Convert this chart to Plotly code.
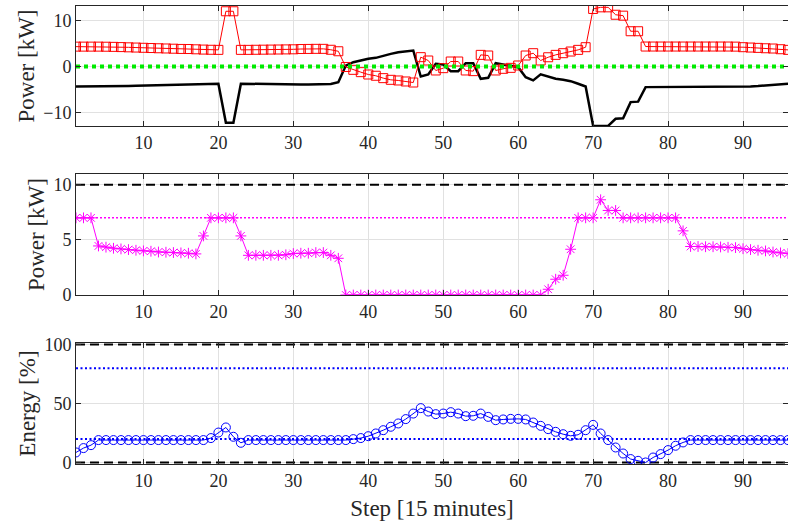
import plotly.graph_objects as go
from plotly.subplots import make_subplots

steps = list(range(1, 97))

grid_power = [4.3, 4.3, 4.3, 4.3, 4.28, 4.25, 4.2, 4.15, 4.1, 4.05, 4.0, 3.95, 3.9, 3.85, 3.8, 3.78, 3.72, 3.66, 3.62, 3.6,
              11.95, 11.95,
              3.6, 3.6, 3.62, 3.64, 3.66, 3.68, 3.7, 3.72, 3.78, 3.8, 3.82, 3.82, 3.62, 3.3,
              -0.1, -0.72, -1.22, -1.73, -2.0, -2.52, -2.88, -3.02, -3.24, -3.46,
              2.02, 1.3, -0.86, -0.36, 1.08, 1.08, -0.86, -1.0, 2.52, 2.38, -0.86, -0.5, -0.29, 0.22, 2.38, 2.88, 1.3, 2.0,
              2.52, 2.88, 3.24, 3.6, 4.18,
              12.45, 12.8, 12.8, 11.2, 11.0, 7.63, 7.63, 4.32,
              4.32, 4.32, 4.32, 4.32, 4.32, 4.32, 4.32, 4.32, 4.32, 4.32, 4.32,
              4.3, 4.18, 4.1, 4.03, 3.95, 3.89, 3.74, 3.6]

load_power = [-4.32, -4.32, -4.32, -4.32, -4.3, -4.28, -4.25, -4.2, -4.15, -4.1, -4.05, -4.0, -3.95, -3.9, -3.85, -3.82, -3.8, -3.78, -3.76, -3.74,
              -12.16, -12.16,
              -3.72, -3.72, -3.74, -3.76, -3.78, -3.8, -3.82, -3.84, -3.88, -3.9, -3.9, -3.9, -3.8, -3.4,
              0.2, 0.93, 1.3, 1.66, 1.87, 2.38, 2.74, 3.1, 3.3, 3.46,
              -2.16, -1.73, 0.58, 0.43, -1.0, -1.0, 0.72, 0.72, -2.66, -2.45, 0.72, 0.43, 0.22, -0.14, -2.3, -3.0, -1.7, -2.16,
              -2.66, -2.88, -3.17, -3.74, -4.32,
              -12.85, -12.85, -12.85, -11.3, -11.2, -7.7, -7.6, -4.46,
              -4.46, -4.46, -4.46, -4.46, -4.46, -4.46, -4.46, -4.46, -4.46, -4.46, -4.46,
              -4.42, -4.38, -4.3, -4.22, -4.12, -4.0, -3.88, -3.75]

zero_ref = [0.0] * 96

charge_power = [7, 7, 7,
                4.45, 4.34, 4.24, 4.18, 4.12, 4.06, 4.0, 3.97, 3.9, 3.88, 3.85, 3.82, 3.79, 3.73,
                5.36,
                7, 7, 7, 7,
                5.36,
                3.6, 3.6, 3.6, 3.6, 3.6, 3.65, 3.76, 3.79, 3.79, 3.85, 3.85, 3.6, 3.33,
                0, 0, 0, 0, 0, 0, 0, 0, 0, 0, 0, 0, 0, 0, 0, 0, 0, 0, 0, 0, 0, 0, 0, 0, 0, 0, 0,
                0.52, 1.43, 1.79, 4.15,
                7, 7, 7,
                8.64, 7.67, 7.67,
                7, 7, 7, 7, 7, 7, 7, 7,
                5.82,
                4.4, 4.4, 4.38, 4.38, 4.36, 4.33, 4.3, 4.2, 4.12, 4.06, 4.0, 3.9, 3.82, 3.76]

power_max = 10
power_nom = 7

energy = [8.5, 12.2, 14.7,
          19, 19, 19, 19, 19, 19, 19, 19, 19, 19, 19, 19, 19, 19, 19,
          20.7, 25.4, 29.7, 21.8, 16.7,
          19, 19, 19, 19, 19, 19, 19, 19, 19, 19, 19, 19, 19, 19,
          19.8, 20.7, 22.3, 24.6, 27.4, 30.3, 33.1, 36.8, 41.5, 46.1,
          43.2, 41.0, 41.5, 42.7, 41.5, 39.3, 39.6, 41.5, 38.7, 35.9, 36.5, 37.0, 37.0, 36.5, 33.9, 31.1, 28.3,
          26.0, 24.0, 22.6, 23.5, 27.4, 31.9, 24.6, 19.0, 12.7, 7.6, 2.9, 1.4, 0, 4.2, 7.1, 10.5, 14.2, 17.0, 19,
          19, 19, 19, 19, 19, 19, 19, 19, 19, 19, 19, 19, 19]

energy_limits = [0, 100]
energy_soft = [20, 80]

x_ticks = [10, 20, 30, 40, 50, 60, 70, 80, 90]

FONT = "Liberation Serif"
TXT = "rgb(38,38,38)"

fig = make_subplots(rows=3, cols=1, shared_xaxes=False)

# Top panel
fig.add_trace(go.Scatter(x=steps, y=load_power, mode="lines",
                         line=dict(color="black", width=2.5), showlegend=False), row=1, col=1)
fig.add_trace(go.Scatter(x=steps, y=grid_power, mode="lines+markers",
                         line=dict(color="red", width=1),
                         marker=dict(symbol="square-open", size=9, color="red", line=dict(width=1)),
                         showlegend=False), row=1, col=1)
fig.add_trace(go.Scatter(x=steps, y=zero_ref, mode="lines",
                         line=dict(color="rgb(0,235,0)", width=4, dash="4px,4px"), showlegend=False), row=1, col=1)

# Middle panel
fig.add_trace(go.Scatter(x=[1, 96], y=[power_max, power_max], mode="lines",
                         line=dict(color="black", width=2, dash="9px,5px"), showlegend=False), row=2, col=1)
fig.add_trace(go.Scatter(x=[1, 96], y=[power_nom, power_nom], mode="lines",
                         line=dict(color="magenta", width=1.5, dash="2px,2px"), showlegend=False), row=2, col=1)
fig.add_trace(go.Scatter(x=steps, y=charge_power, mode="lines+markers",
                         line=dict(color="magenta", width=1),
                         marker=dict(symbol="asterisk-open", size=9, color="magenta", line=dict(width=1, color="magenta")),
                         showlegend=False), row=2, col=1)

# Bottom panel
for v in energy_limits:
    fig.add_trace(go.Scatter(x=[1, 96], y=[v, v], mode="lines",
                             line=dict(color="black", width=2, dash="9px,5px"), showlegend=False), row=3, col=1)
for v in energy_soft:
    fig.add_trace(go.Scatter(x=[1, 96], y=[v, v], mode="lines",
                             line=dict(color="blue", width=2, dash="2px,2.5px"), showlegend=False), row=3, col=1)
fig.add_trace(go.Scatter(x=steps, y=energy, mode="lines+markers",
                         line=dict(color="blue", width=1),
                         marker=dict(symbol="circle-open", size=9, color="blue", line=dict(width=1)),
                         showlegend=False), row=3, col=1)

axis_common = dict(showline=True, linecolor=TXT, linewidth=1, mirror="ticks",
                   ticks="inside", ticklen=5, tickcolor=TXT, automargin=False,
                   showgrid=True, gridcolor="rgb(225,225,225)", gridwidth=1, zeroline=False,
                   tickfont=dict(family=FONT, size=18, color=TXT))

domains = [[0.738, 1.0], [0.369, 0.633], [0.0, 0.264]]
yranges = [[-12.87, 13.09], [0, 10.97], [-1.3, 101.3]]
yticks = [[-10, 0, 10], [0, 5, 10], [0, 50, 100]]
ytitles = ["Power [kW]", "Power [kW]", "Energy [%]"]

for i in range(3):
    n = "" if i == 0 else str(i + 1)
    fig.layout["xaxis" + n].update(range=[1, 96], tickvals=x_ticks, **axis_common)
    fig.layout["yaxis" + n].update(domain=domains[i], range=yranges[i], tickvals=yticks[i],
                                   title=dict(text=ytitles[i], font=dict(family=FONT, size=23, color=TXT),
                                              standoff=2),
                                   **axis_common)

fig.layout["xaxis3"].update(title=dict(text="Step [15 minutes]", font=dict(family=FONT, size=23, color=TXT),
                                       standoff=10))

fig.update_layout(width=788, height=521, margin=dict(l=76, r=0, t=6, b=57),
                  plot_bgcolor="white", paper_bgcolor="white")

fig.write_html("out.html", config={"displayModeBar": False},
               post_script="document.body.style.margin='0';")
